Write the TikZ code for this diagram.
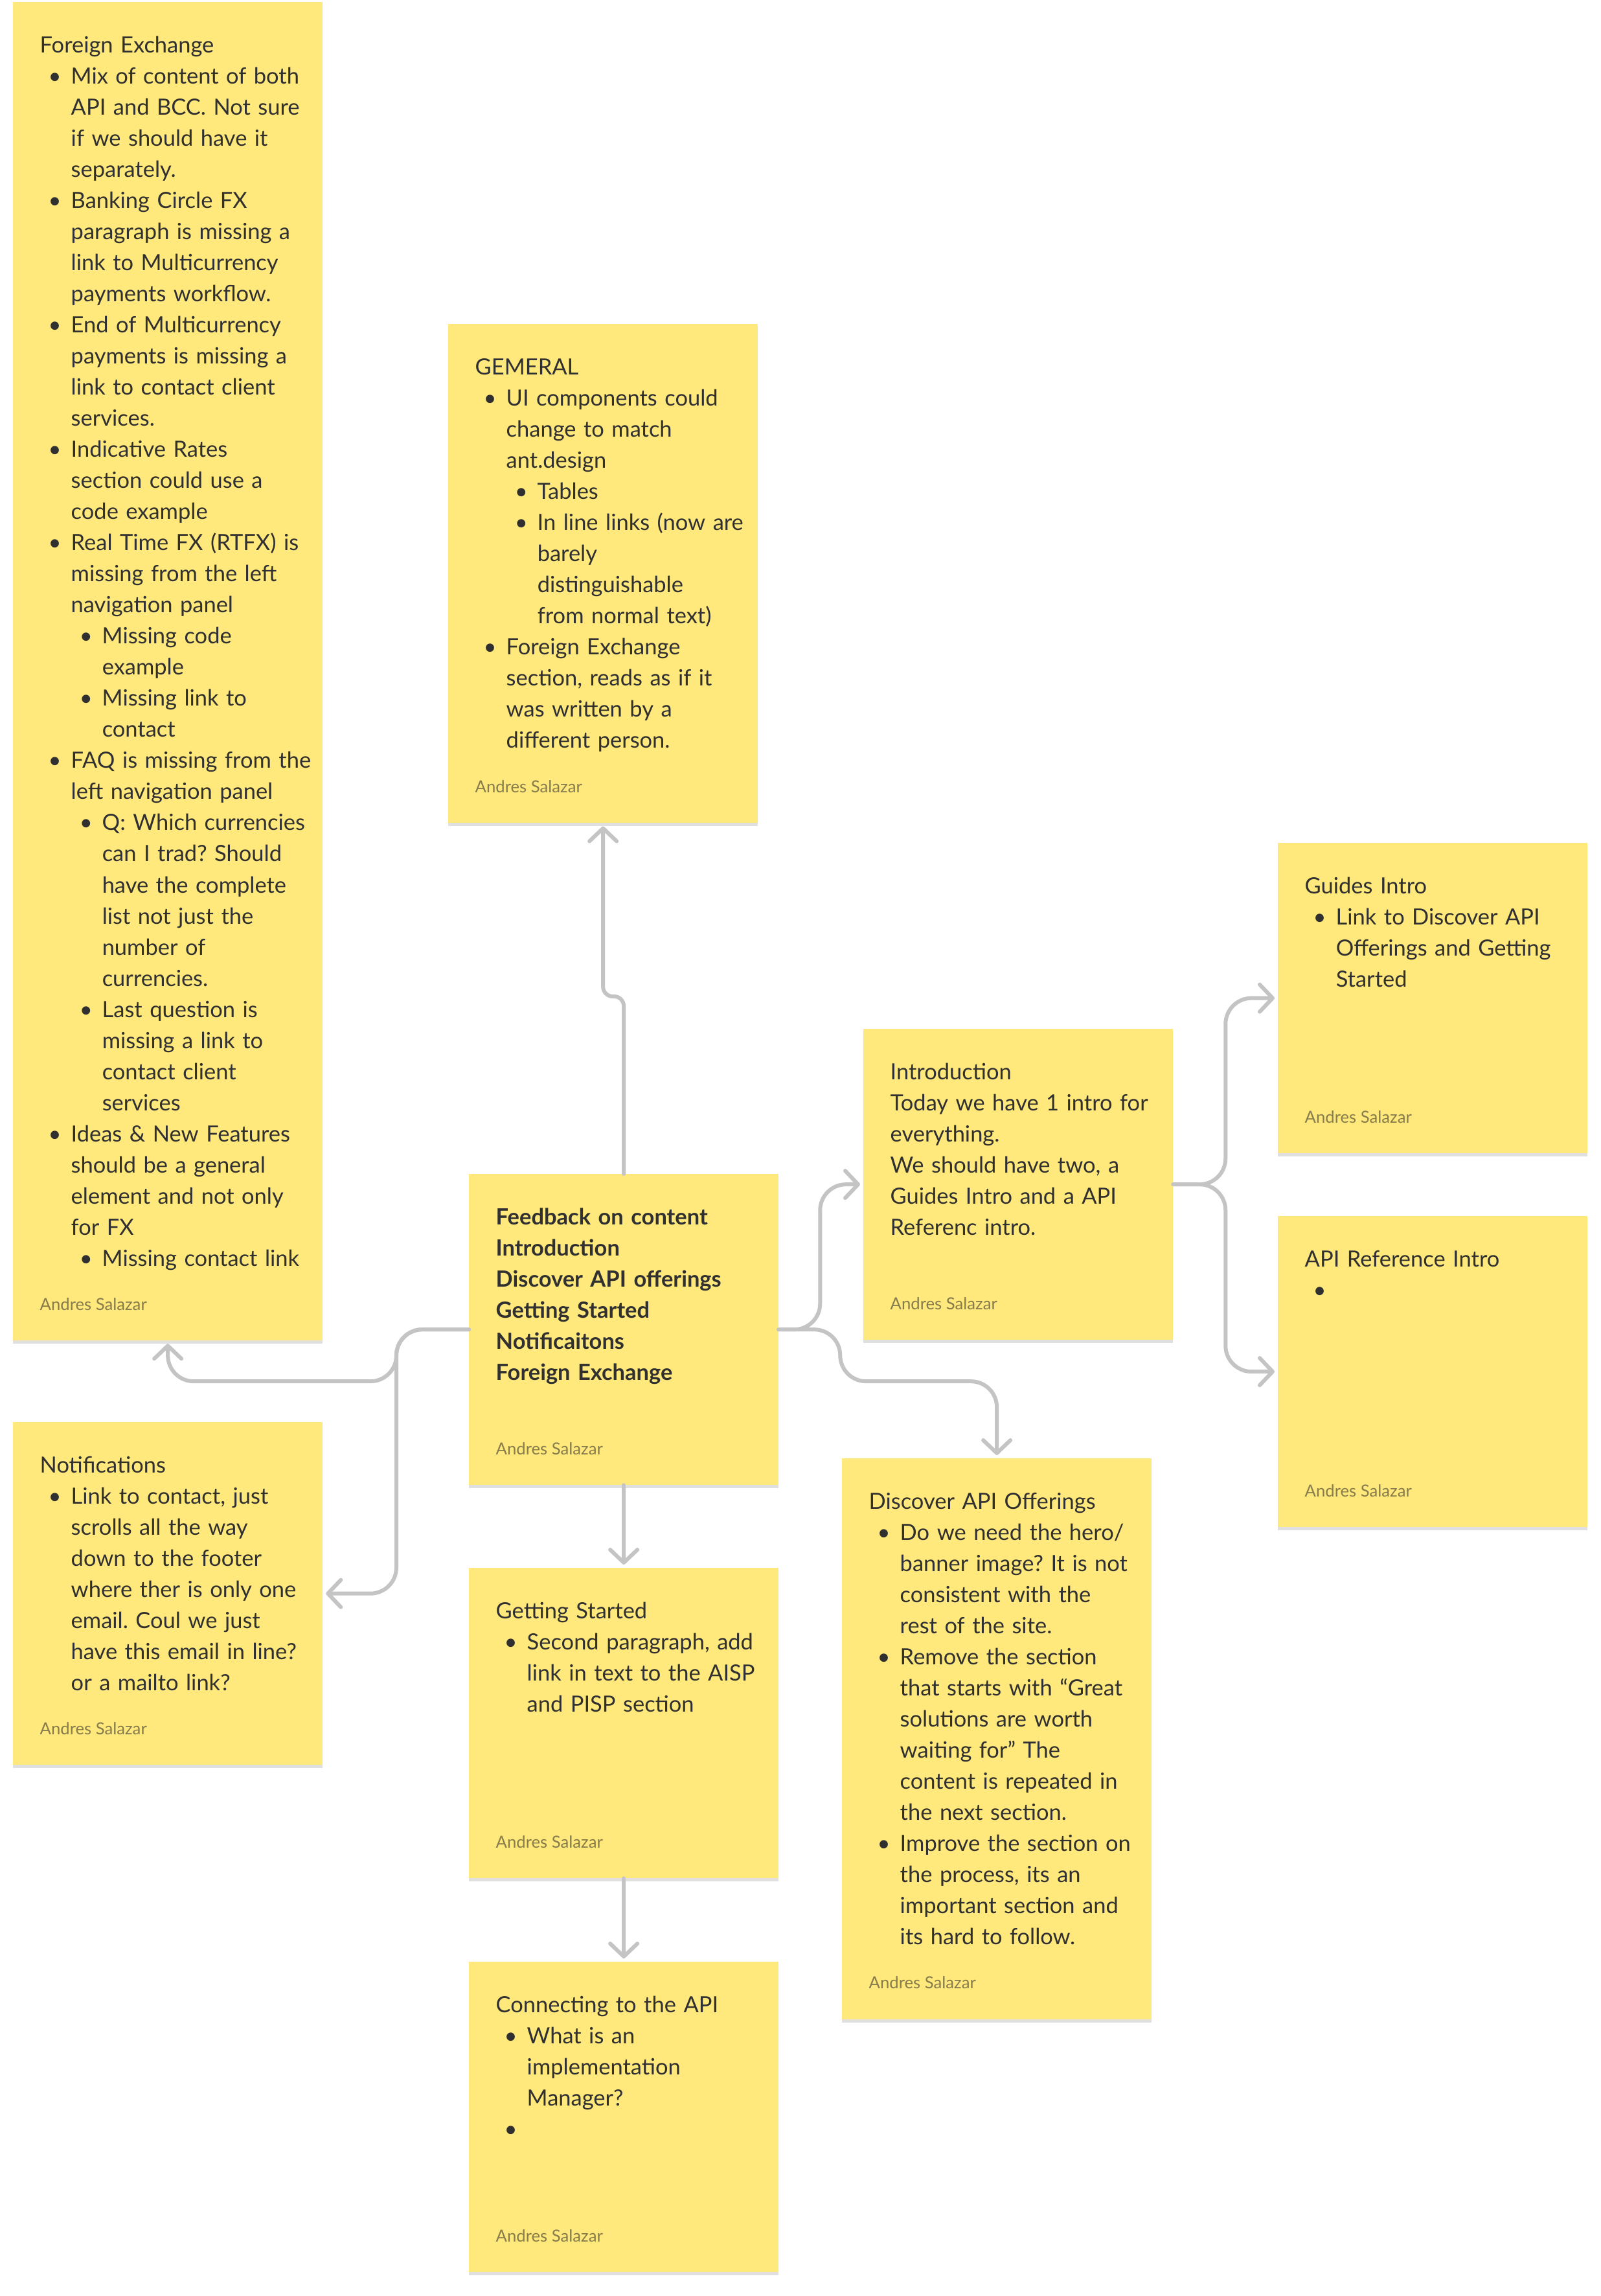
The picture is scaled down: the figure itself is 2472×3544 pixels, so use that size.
\documentclass[tikz,border=0pt]{standalone}
\usepackage{fontspec}
\setmainfont{Lato}
\usepackage{tikz}
\usetikzlibrary{arrows.meta,positioning,calc,shadows}
\definecolor{stickyYellow}{RGB}{255,232,124}
\definecolor{inkDark}{RGB}{48,48,48}
\definecolor{byOlive}{RGB}{134,124,76}
\definecolor{wireGray}{RGB}{196,196,196}
\frenchspacing
% bullet levels and hanging indents
\newcommand{\bulA}{\hspace*{0.23cm}\makebox[0pt]{\textbullet}\hspace*{0.25cm}}
\newcommand{\indA}{\hspace*{0.48cm}}
\newcommand{\bulB}{\hspace*{0.71cm}\makebox[0pt]{\textbullet}\hspace*{0.25cm}}
\newcommand{\indB}{\hspace*{0.96cm}}

\begin{document}
\begin{tikzpicture}[
    x=0.01cm, y=-0.01cm,
    sticky/.style={fill=stickyYellow, anchor=north west, minimum width=4.78cm,
      inner sep=0pt, outer sep=0pt,
      drop shadow={shadow xshift=0cm, shadow yshift=-0.05cm, opacity=0.12, fill=black}},
    body/.style={anchor=base west, inner sep=0pt, text width=6cm, align=left,
      text=inkDark, font={\fontsize{9.8pt}{13.66pt}\selectfont}},
    byline/.style={anchor=base west, inner sep=0pt, text=byOlive,
      font={\fontsize{7.3pt}{8.5pt}\selectfont}},
    link/.style={draw=wireGray, line width=0.06cm, line cap=round, rounded corners=0.4cm,
      -{Straight Barb[length=0.2cm,width=0.42cm,round]}, shorten >=0.05cm}
  ]
  \fill[white] (0,0) rectangle (2472,3544);
  \useasboundingbox (0,0) rectangle (2472,3544);

  % sticky notes
  \node[sticky, minimum height=20.65cm] (fx) at (20,3) {};
  \node[sticky, minimum height=7.70cm] (general) at (692,500) {};
  \node[sticky, minimum height=4.80cm] (feedback) at (724,1812) {};
  \node[sticky, minimum height=4.80cm] (intro) at (1333,1588) {};
  \node[sticky, minimum height=4.79cm] (guides) at (1973,1301) {};
  \node[sticky, minimum height=4.80cm] (apiref) at (1973,1877) {};
  \node[sticky, minimum height=8.65cm] (discover) at (1300,2251) {};
  \node[sticky, minimum height=4.79cm] (started) at (724,2420) {};
  \node[sticky, minimum height=4.79cm] (connect) at (724,3028) {};
  \node[sticky, minimum height=5.29cm] (notif) at (20,2195) {};

  % note texts
  \node[body] (fx-txt) at ([shift={(41,78)}]fx.north west) {Foreign Exchange\\
    \bulA Mix of content of both\\
    \indA API and BCC. Not sure\\
    \indA if we should have it\\
    \indA separately.\\
    \bulA Banking Circle FX\\
    \indA paragraph is missing a\\
    \indA link to Multicurrency\\
    \indA payments workflow.\\
    \bulA End of Multicurrency\\
    \indA payments is missing a\\
    \indA link to contact client\\
    \indA services.\\
    \bulA Indicative Rates\\
    \indA section could use a\\
    \indA code example\\
    \bulA Real Time FX (RTFX) is\\
    \indA missing from the left\\
    \indA navigation panel\\
    \bulB Missing code\\
    \indB example\\
    \bulB Missing link to\\
    \indB contact\\
    \bulA FAQ is missing from the\\
    \indA left navigation panel\\
    \bulB Q: Which currencies\\
    \indB can I trad? Should\\
    \indB have the complete\\
    \indB list not just the\\
    \indB number of\\
    \indB currencies.\\
    \bulB Last question is\\
    \indB missing a link to\\
    \indB contact client\\
    \indB services\\
    \bulA Ideas \& New Features\\
    \indA should be a general\\
    \indA element and not only\\
    \indA for FX\\
    \bulB Missing contact link};
  \node[body] (general-txt) at ([shift={(41,78)}]general.north west) {GEMERAL\\
    \bulA UI components could\\
    \indA change to match\\
    \indA ant.design\\
    \bulB Tables\\
    \bulB In line links (now are\\
    \indB barely\\
    \indB distinguishable\\
    \indB from normal text)\\
    \bulA Foreign Exchange\\
    \indA section, reads as if it\\
    \indA was written by a\\
    \indA different person.};
  \node[body, font={\fontsize{9.8pt}{13.66pt}\selectfont\bfseries}] (feedback-txt)
    at ([shift={(41,78)}]feedback.north west) {Feedback on content\\
    Introduction\\
    Discover API offerings\\
    Getting Started\\
    Notificaitons\\
    Foreign Exchange};
  \node[body] (intro-txt) at ([shift={(41,78)}]intro.north west) {Introduction\\
    Today we have 1 intro for\\
    everything.\\
    We should have two, a\\
    Guides Intro and a API\\
    Referenc intro.};
  \node[body] (guides-txt) at ([shift={(41,78)}]guides.north west) {Guides Intro\\
    \bulA Link to Discover API\\
    \indA Offerings and Getting\\
    \indA Started};
  \node[body] (apiref-txt) at ([shift={(41,78)}]apiref.north west) {API Reference Intro\\
    \bulA};
  \node[body] (discover-txt) at ([shift={(41,78)}]discover.north west) {Discover API Offerings\\
    \bulA Do we need the hero/\\
    \indA banner image? It is not\\
    \indA consistent with the\\
    \indA rest of the site.\\
    \bulA Remove the section\\
    \indA that starts with “Great\\
    \indA solutions are worth\\
    \indA waiting for” The\\
    \indA content is repeated in\\
    \indA the next section.\\
    \bulA Improve the section on\\
    \indA the process, its an\\
    \indA important section and\\
    \indA its hard to follow.};
  \node[body] (started-txt) at ([shift={(41,78)}]started.north west) {Getting Started\\
    \bulA Second paragraph, add\\
    \indA link in text to the AISP\\
    \indA and PISP section};
  \node[body] (connect-txt) at ([shift={(41,78)}]connect.north west) {Connecting to the API\\
    \bulA What is an\\
    \indA implementation\\
    \indA Manager?\\
    \bulA};
  \node[body] (notif-txt) at ([shift={(41,78)}]notif.north west) {Notifications\\
    \bulA Link to contact, just\\
    \indA scrolls all the way\\
    \indA down to the footer\\
    \indA where ther is only one\\
    \indA email. Coul we just\\
    \indA have this email in line?\\
    \indA or a mailto link?};

  % author lines
  \node[byline] (fx-by) at ([shift={(41,-47)}]fx.south west) {Andres Salazar};
  \node[byline] (general-by) at ([shift={(41,-47)}]general.south west) {Andres Salazar};
  \node[byline] (feedback-by) at ([shift={(41,-47)}]feedback.south west) {Andres Salazar};
  \node[byline] (intro-by) at ([shift={(41,-47)}]intro.south west) {Andres Salazar};
  \node[byline] (guides-by) at ([shift={(41,-47)}]guides.south west) {Andres Salazar};
  \node[byline] (apiref-by) at ([shift={(41,-47)}]apiref.south west) {Andres Salazar};
  \node[byline] (discover-by) at ([shift={(41,-47)}]discover.south west) {Andres Salazar};
  \node[byline] (started-by) at ([shift={(41,-47)}]started.south west) {Andres Salazar};
  \node[byline] (connect-by) at ([shift={(41,-47)}]connect.south west) {Andres Salazar};
  \node[byline] (notif-by) at ([shift={(41,-47)}]notif.south west) {Andres Salazar};

  % connectors
  \draw[link, rounded corners=0.15cm] (feedback.north) -- ++(0,-274) -| (general.south);
  \draw[link] (feedback.west) -- ++(-112,0) -- ++(0,80) -| (fx.south);
  \draw[link] (feedback.west) -- ++(-112,0) |- (notif.east);
  \draw[link] (feedback.east) -- ++(64,0) |- (intro.west);
  \draw[link] (feedback.east) -- ++(95,0) -- ++(0,80) -| (discover.north);
  \draw[link] (intro.east) -- ++(81,0) |- (guides.west);
  \draw[link] (intro.east) -- ++(81,0) |- (apiref.west);
  \draw[link] (feedback.south) -- (started.north);
  \draw[link] (started.south) -- (connect.north);
\end{tikzpicture}
\end{document}
